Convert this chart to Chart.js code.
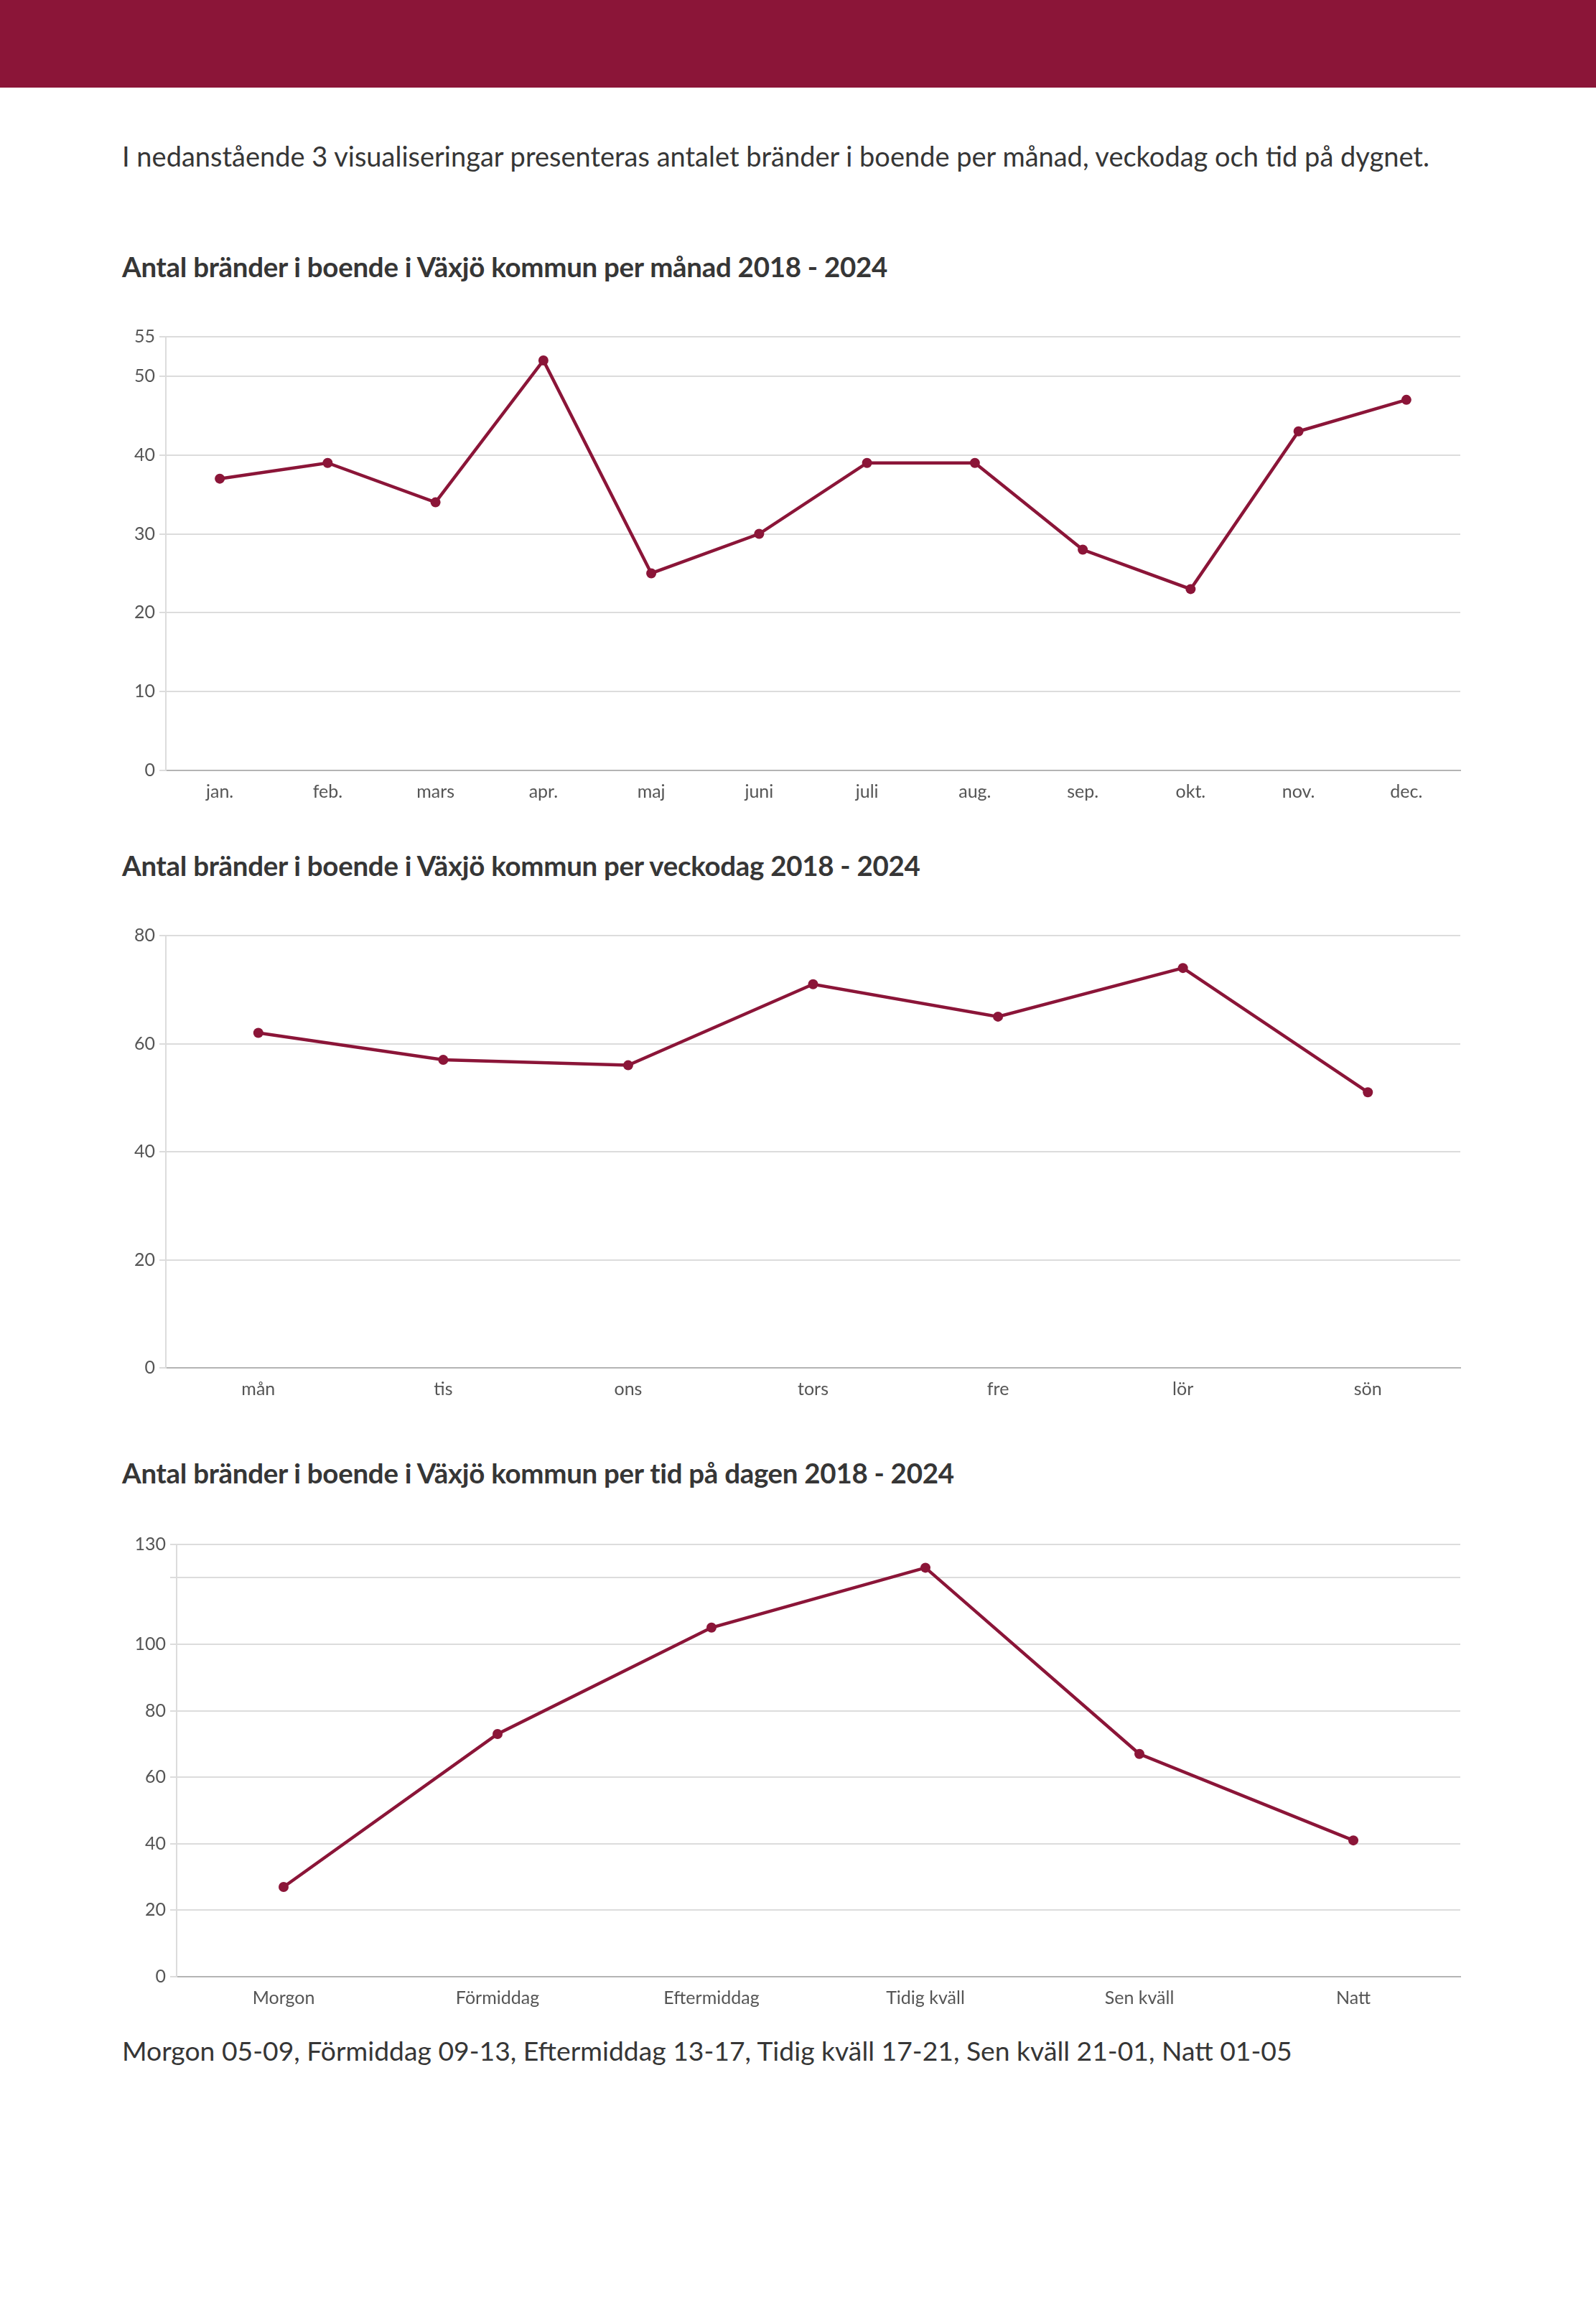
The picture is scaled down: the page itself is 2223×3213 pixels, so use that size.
<!DOCTYPE html>
<html>
<head>
<meta charset="utf-8">
<script src="https://cdn.jsdelivr.net/npm/chart.js@4.4.1/dist/chart.umd.min.js"></script>
<style>
  body { margin: 0; width: 2223px; height: 3213px; background: #fff; font-family: Lato, "Open Sans", sans-serif; color: #363636; position: relative; overflow: hidden; }
  .bar { position: absolute; left: 0; top: 0; width: 2223px; height: 122px; background: #8b1538; }
  .txt { position: absolute; left: 170px; white-space: nowrap; line-height: 1; }
  .intro { top: 198px; font-size: 38px; }
  .title { font-weight: bold; font-size: 38.5px; letter-spacing: -0.3px; }
  .foot { top: 2837px; font-size: 37.3px; }
  .box { position: absolute; left: 150px; width: 1891px; }
  .box canvas { display: block; }
</style>
</head>
<body>
<div class="bar"></div>
<div class="txt intro">I nedanstående 3 visualiseringar presenteras antalet bränder i boende per månad, veckodag och tid på dygnet.</div>

<div class="txt title" style="top:352px">Antal bränder i boende i Växjö kommun per månad 2018 - 2024</div>
<div class="box" style="top:448px;height:677px"><canvas id="c1"></canvas></div>

<div class="txt title" style="top:1186px">Antal bränder i boende i Växjö kommun per veckodag 2018 - 2024</div>
<div class="box" style="top:1282px;height:675px"><canvas id="c2"></canvas></div>

<div class="txt title" style="top:2032px">Antal bränder i boende i Växjö kommun per tid på dagen 2018 - 2024</div>
<div class="box" style="top:2130px;height:675px"><canvas id="c3"></canvas></div>

<div class="txt foot">Morgon 05-09, Förmiddag 09-13, Eftermiddag 13-17, Tidig kväll 17-21, Sen kväll 21-01, Natt 01-05</div>

<script>
// data
const months = ['jan.', 'feb.', 'mars', 'apr.', 'maj', 'juni', 'juli', 'aug.', 'sep.', 'okt.', 'nov.', 'dec.'];
const perMonth = [37, 39, 34, 52, 25, 30, 39, 39, 28, 23, 43, 47];
const monthTicks = [0, 10, 20, 30, 40, 50, 55];

const weekdays = ['mån', 'tis', 'ons', 'tors', 'fre', 'lör', 'sön'];
const perWeekday = [62, 57, 56, 71, 65, 74, 51];
const weekdayTicks = [0, 20, 40, 60, 80];

const dayParts = ['Morgon', 'Förmiddag', 'Eftermiddag', 'Tidig kväll', 'Sen kväll', 'Natt'];
const perDayPart = [27, 73, 105, 123, 67, 41];
const dayPartTicks = [0, 20, 40, 60, 80, 100, 120, 130];
const dayPartHidden = [120];

const wine = '#8b1538';
const tickFont = { family: 'Lato', size: 25 };

function makeChart(id, labels, values, ticks, axisWidth, hidden) {
  hidden = hidden || [];
  return new Chart(document.getElementById(id), {
    type: 'line',
    data: {
      labels: labels,
      datasets: [{
        data: values,
        borderColor: wine,
        backgroundColor: wine,
        borderWidth: 4.5,
        pointRadius: 7,
        pointBackgroundColor: wine,
        pointBorderWidth: 0,
        tension: 0
      }]
    },
    options: {
      responsive: true,
      maintainAspectRatio: false,
      animation: false,
      plugins: { legend: { display: false }, tooltip: { enabled: false } },
      layout: { padding: 0 },
      scales: {
        x: {
          offset: true,
          grid: { display: false },
          border: { color: '#b4b4b4', width: 2 },
          ticks: { color: '#555', font: tickFont, padding: 7, maxRotation: 0 }
        },
        y: {
          min: 0,
          max: ticks[ticks.length - 1],
          afterBuildTicks: s => { s.ticks = ticks.map(v => ({ value: v })); },
          afterFit: s => { s.width = axisWidth; },
          grid: { color: '#dcdcdc', lineWidth: 2, tickLength: 9, tickColor: '#dcdcdc' },
          border: { color: '#dcdcdc', width: 2 },
          ticks: {
            color: '#555', font: tickFont, padding: 6,
            callback: v => hidden.includes(v) ? '' : v
          }
        }
      }
    }
  });
}

makeChart('c1', months, perMonth, monthTicks, 81);
makeChart('c2', weekdays, perWeekday, weekdayTicks, 81);
makeChart('c3', dayParts, perDayPart, dayPartTicks, 96, dayPartHidden);
</script>
</body>
</html>
